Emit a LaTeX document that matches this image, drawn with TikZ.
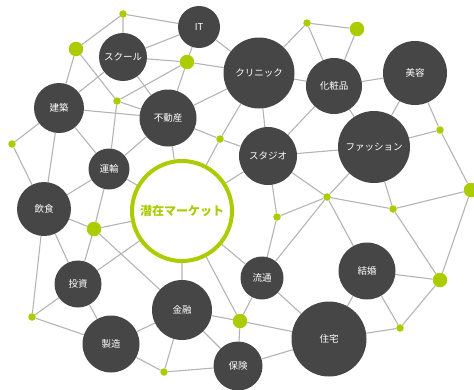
\documentclass[tikz,border=0pt]{standalone}
\usepackage{fontspec}
\newfontfamily\jpfont{Noto Sans CJK JP}
\usetikzlibrary{backgrounds}
\definecolor{bubblegray}{HTML}{464646}
\definecolor{leafgreen}{HTML}{AACC00}
\definecolor{linkgray}{HTML}{B4B4B4}

\begin{document}
\begin{tikzpicture}[x=1pt,y=-1pt,
  bubble/.style={circle, fill=bubblegray, text=white, inner sep=0pt, font=\jpfont\fontsize{9.5}{11}\selectfont},
  smalldot/.style={circle, fill=leafgreen, inner sep=0pt, minimum size=7.5pt},
  bigdot/.style={circle, fill=leafgreen, inner sep=0pt, minimum size=14.5pt},
  link/.style={draw=linkgray, line width=1.1pt}]
\useasboundingbox (0,0) rectangle (474,389);
\node[bubble, minimum size=42pt] (it) at (199,27) {IT};
\node[bubble, minimum size=48pt] (school) at (123,57) {スクール};
\node[bubble, minimum size=50pt] (build) at (59,108) {建築};
\node[bubble, minimum size=57pt] (realty) at (168,118) {不動産};
\node[bubble, minimum size=41pt] (transport) at (109,169) {運輸};
\node[bubble, minimum size=71pt] (clinic) at (259,73) {クリニック};
\node[bubble, minimum size=56pt] (cosme) at (334,86) {化粧品};
\node[bubble, minimum size=64pt] (beauty) at (415,73) {美容};
\node[bubble, minimum size=72pt] (fashion) at (374,147) {ファッション};
\node[bubble, minimum size=58pt] (studio) at (268,156) {スタジオ};
\node[bubble, minimum size=54pt] (food) at (44,209) {飲食};
\node[circle, draw=leafgreen, line width=4pt, fill=white, inner sep=0pt, minimum size=100pt,
  text=leafgreen, font=\jpfont\bfseries\fontsize{12}{14}\selectfont] (market) at (182,211) {潜在マーケット};
\node[bubble, minimum size=47pt] (invest) at (78,284) {投資};
\node[bubble, minimum size=60pt] (finance) at (182,310) {金融};
\node[bubble, minimum size=57pt] (maker) at (111,344) {製造};
\node[bubble, minimum size=49pt] (insure) at (238,366) {保険};
\node[bubble, minimum size=43pt] (logistics) at (262,278) {流通};
\node[bubble, minimum size=57pt] (wedding) at (367,271) {結婚};
\node[bubble, minimum size=75pt] (house) at (329,339) {住宅};
\node[smalldot] (d1) at (123,14) {};
\node[bigdot] (d2) at (76,49) {};
\node[bigdot] (d3) at (187,62) {};
\node[smalldot] (d4) at (117,101) {};
\node[smalldot] (d5) at (12,144) {};
\node[smalldot] (d6) at (220,139) {};
\node[smalldot] (d7) at (307,23) {};
\node[bigdot] (d8) at (357,29) {};
\node[smalldot] (d9) at (440,130) {};
\node[bigdot] (d10) at (471,190) {};
\node[smalldot] (d11) at (327,197) {};
\node[smalldot] (d12) at (277,217) {};
\node[smalldot] (d13) at (393,209) {};
\node[bigdot] (d14) at (440,280) {};
\node[smalldot] (d15) at (400,328) {};
\node[bigdot] (d16) at (240,321) {};
\node[bigdot] (d17) at (94,229) {};
\node[smalldot] (d18) at (32,317) {};
\node[smalldot] (d19) at (164,372) {};
\begin{scope}[on background layer]
\draw[link] (d1) -- (d2) (d1) -- (school) (d1) -- (it) (d2) -- (d4) (d2) -- (build);
\draw[link] (school) -- (build) (school) -- (realty) (school) -- (it) (school) -- (d3);
\draw[link] (d4) -- (d3) (d4) -- (realty) (d4) -- (transport);
\draw[link] (build) -- (realty) (build) -- (transport) (build) -- (d5) (build) -- (food) (d5) -- (food);
\draw[link] (transport) -- (realty) (transport) -- (food) (transport) -- (market) (transport) -- (d17);
\draw[link] (it) -- (clinic) (it) -- (d3) (d3) -- (clinic) (d3) -- (realty);
\draw[link] (realty) -- (clinic) (realty) -- (d6) (realty) -- (market);
\draw[link] (d6) -- (studio) (d6) -- (clinic) (d6) -- (market);
\draw[link] (clinic) -- (studio) (clinic) -- (d7) (clinic) -- (cosme);
\draw[link] (studio) -- (cosme) (studio) -- (fashion) (studio) -- (market) (studio) -- (d12) (studio) -- (d11);
\draw[link] (d7) -- (cosme) (d7) -- (d8) (d8) -- (cosme) (cosme) -- (beauty) (cosme) -- (fashion);
\draw[link] (beauty) -- (fashion) (beauty) -- (d9) (d9) -- (d10);
\draw[link] (fashion) -- (d9) (fashion) -- (d11) (fashion) -- (d13) (d10) -- (d13) (d10) -- (d14);
\draw[link] (d11) -- (d13) (d11) -- (wedding) (d11) -- (d12) (d11) -- (logistics) (d13) -- (d14);
\draw[link] (wedding) -- (d14) (wedding) -- (d15) (d14) -- (d15) (wedding) -- (house) (house) -- (d15);
\draw[link] (market) -- (finance) (market) -- (logistics) (market) -- (d16) (d12) -- (logistics);
\draw[link] (logistics) -- (d16) (logistics) -- (house);
\draw[link] (finance) -- (d16) (finance) -- (insure) (d16) -- (insure) (d16) -- (house) (insure) -- (house);
\draw[link] (finance) -- (d19) (d19) -- (insure);
\draw[link] (food) -- (d17) (food) -- (invest) (food) -- (d18);
\draw[link] (d17) -- (invest) (d17) -- (market) (d17) -- (finance);
\draw[link] (invest) -- (market) (invest) -- (d18) (invest) -- (maker);
\draw[link] (d18) -- (maker) (maker) -- (finance) (maker) -- (d19);
\end{scope}
\end{tikzpicture}
\end{document}
